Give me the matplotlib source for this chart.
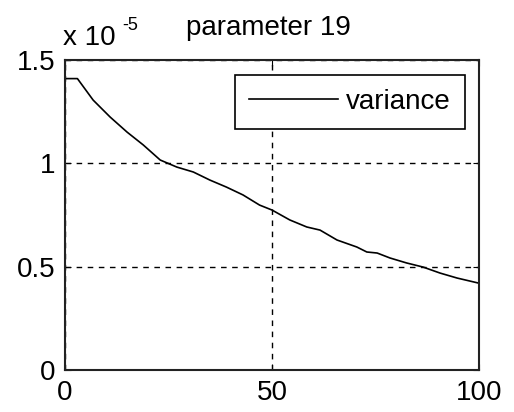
import matplotlib
matplotlib.use("Agg")
import matplotlib.pyplot as plt

# data (variance in units of 1e-5)
x = [0, 3, 6.8, 10.9, 15, 18.9, 23, 27, 31, 35, 39, 43, 47, 50, 54.3, 58.4,
     61.6, 65.7, 70.5, 72.9, 75.4, 78.5, 82.5, 86.5, 90.6, 94.7, 100]
variance = [1.41, 1.41, 1.306, 1.224, 1.151, 1.089, 1.016, 0.982, 0.958, 0.919,
            0.885, 0.847, 0.798, 0.774, 0.726, 0.692, 0.677, 0.629, 0.595,
            0.571, 0.566, 0.542, 0.518, 0.498, 0.469, 0.445, 0.42]
xticks = [0, 50, 100]
yticks = [0, 0.5, 1, 1.5]
yticklabels = ["0", "0.5", "1", "1.5"]

plt.rcParams['font.family'] = ['Liberation Sans', 'DejaVu Sans']
FS = 20

W, H = 514, 412
fig = plt.figure(figsize=(W/100, H/100), dpi=100)
ax = fig.add_axes([65/W, 42/H, 414/W, 310/H])
ax.plot(x, variance, color='black', lw=1.2, label='variance')
ax.set_xlim(0, 100)
ax.set_ylim(0, 1.5)
ax.set_xticks(xticks)
ax.set_xticklabels([str(t) for t in xticks])
ax.set_yticks(yticks)
ax.set_yticklabels(yticklabels)
ax.tick_params(direction='in', length=4, labelsize=FS, colors='black', top=True, right=True)
ax.tick_params(axis='x', pad=7)
ax.tick_params(axis='y', pad=7)
for s in ax.spines.values():
    s.set_linewidth(1.5)
    s.set_color('#222222')
ax.grid(True, color='black', linestyle=(0, (4, 4)), lw=1.0)
fig.text(268/W, (H-35)/H, 'parameter 19', fontsize=FS, ha='center', va='baseline')
fig.text(63/W, (H-45)/H, 'x 10', fontsize=FS, ha='left', va='baseline')
fig.text(122/W, (H-30)/H, '-5', fontsize=13, ha='left', va='baseline')
leg = ax.legend(loc='upper right', bbox_to_anchor=(0.966, 0.952), borderaxespad=0,
                fontsize=FS, frameon=True, fancybox=False, handlelength=3.2,
                borderpad=0.5, handletextpad=0.3, edgecolor='black', framealpha=1)
leg.get_frame().set_linewidth(1.2)
fig.savefig('out.png', dpi=100)
